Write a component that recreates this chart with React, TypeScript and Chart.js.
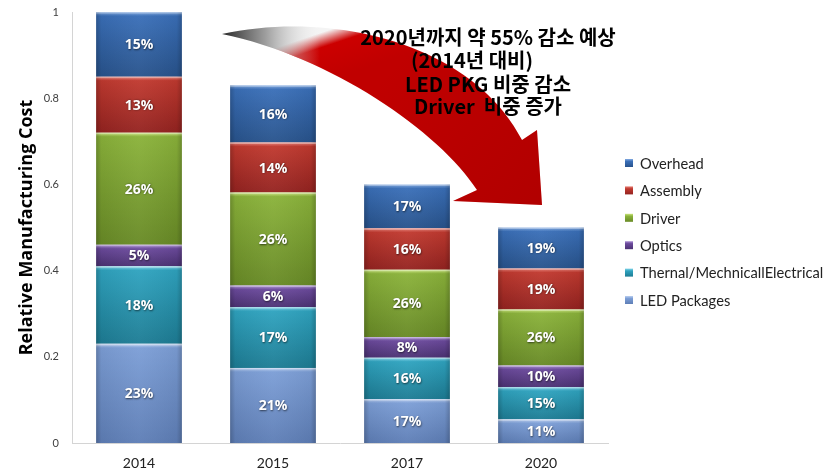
import React, { useEffect, useRef } from "react";
import { Chart, registerables } from "chart.js";
Chart.register(...registerables);

const categories = ["2014", "2015", "2017", "2020"];
const totals = [1.0, 0.83, 0.6, 0.5];
const seriesNames = ["LED Packages", "Thernal/MechnicallElectrical", "Optics", "Driver", "Assembly", "Overhead"];
const ledPackagesPct = [23, 21, 17, 11];
const thermalPct = [18, 17, 16, 15];
const opticsPct = [5, 6, 8, 10];
const driverPct = [26, 26, 26, 26];
const assemblyPct = [13, 14, 16, 19];
const overheadPct = [15, 16, 17, 19];
const yTicks = [0, 0.2, 0.4, 0.6, 0.8, 1];
const yTitle = "Relative Manufacturing Cost";
const annotationLines = ["2020년까지 약 55% 감소 예상", "(2014년 대비)", "LED PKG 비중 감소", "Driver  비중 증가"];

const pctSeries = [ledPackagesPct, thermalPct, opticsPct, driverPct, assemblyPct, overheadPct];
// [base, light, dark]
const palette = [
  ["#7C9ED6", "#BCD0F0", "#5E7EB6"],
  ["#2FA3BF", "#86D6EA", "#1D7C94"],
  ["#6B4A9C", "#AC90D4", "#4C3274"],
  ["#8AB23A", "#CBE67E", "#688A26"],
  ["#C0392F", "#E68077", "#942320"],
  ["#3A6FB8", "#85ACE2", "#28538C"],
];

const FONT = "Lato, 'Open Sans', sans-serif";
const BOLD_FONT = "'Open Sans', Lato, sans-serif";

function segmentGradient(ctx: any, di: number) {
  const chart = ctx.chart;
  const [base, light, dark] = palette[di];
  if (ctx.type !== "data" || !chart.chartArea) return base;
  const y = chart.scales.y;
  const i = ctx.dataIndex;
  let bottom = 0;
  for (let k = 0; k < di; k++) bottom += chart.data.datasets[k].data[i] as number;
  const top = bottom + (chart.data.datasets[di].data[i] as number);
  const yTop = y.getPixelForValue(top);
  const yBot = y.getPixelForValue(bottom);
  const g = chart.ctx.createLinearGradient(0, yTop, 0, yBot);
  g.addColorStop(0, light);
  g.addColorStop(Math.min(0.25, 4 / Math.max(1, yBot - yTop)), base);
  g.addColorStop(1, dark);
  return g;
}

const barDecor = {
  id: "barDecor",
  afterDatasetsDraw(chart: any) {
    const ctx = chart.ctx;
    chart.data.datasets.forEach((ds: any, di: number) => {
      const meta = chart.getDatasetMeta(di);
      meta.data.forEach((el: any, i: number) => {
        const { x, y, base, width } = el.getProps(["x", "y", "base", "width"], true);
        const left = x - width / 2;
        const g = ctx.createLinearGradient(left, 0, left + width, 0);
        g.addColorStop(0, "rgba(0,0,0,0.22)");
        g.addColorStop(0.06, "rgba(0,0,0,0.05)");
        g.addColorStop(0.5, "rgba(255,255,255,0.04)");
        g.addColorStop(0.94, "rgba(0,0,0,0.05)");
        g.addColorStop(1, "rgba(0,0,0,0.22)");
        ctx.save();
        ctx.fillStyle = g;
        ctx.fillRect(left, y, width, base - y);
        ctx.fillStyle = "rgba(255,255,255,0.35)";
        ctx.fillRect(left, y, width, 1.5);
        ctx.restore();
        // label
        const pct = pctSeries[di][i];
        ctx.save();
        ctx.font = `bold 14px ${BOLD_FONT}`;
        ctx.textAlign = "center";
        ctx.textBaseline = "middle";
        ctx.shadowColor = "rgba(0,0,0,0.6)";
        ctx.shadowBlur = 2;
        ctx.shadowOffsetX = 0.5;
        ctx.shadowOffsetY = 0.5;
        ctx.fillStyle = "#ffffff";
        ctx.fillText(pct + "%", x, (y + base) / 2 + 1);
        ctx.restore();
      });
    });
  },
};

const arrowAndText = {
  id: "arrowAndText",
  afterDraw(chart: any) {
    const ctx = chart.ctx;
    ctx.save();
    const path = new Path2D();
    path.moveTo(222, 34);
    path.bezierCurveTo(330, 10, 472, 42, 522, 140);
    path.lineTo(537, 130);
    path.lineTo(542, 205);
    path.lineTo(453, 201);
    path.lineTo(477, 190);
    path.bezierCurveTo(440, 132, 330, 56, 222, 34);
    path.closePath();
    const g = ctx.createLinearGradient(335, 28, 350, 73);
    g.addColorStop(0, "#f4f4f4");
    g.addColorStop(0.3, "#cc0000");
    g.addColorStop(1, "#c00000");
    ctx.fillStyle = g;
    ctx.fill(path);
    ctx.save();
    ctx.clip(path);
    const g2 = ctx.createLinearGradient(222, 0, 320, 0);
    g2.addColorStop(0, "rgba(40,40,40,1)");
    g2.addColorStop(0.45, "rgba(150,150,150,0.9)");
    g2.addColorStop(1, "rgba(235,235,235,0)");
    ctx.fillStyle = g2;
    ctx.fillRect(215, 0, 110, 80);
    const g3 = ctx.createLinearGradient(400, 60, 540, 200);
    g3.addColorStop(0, "rgba(120,0,0,0)");
    g3.addColorStop(1, "rgba(120,0,0,0.2)");
    ctx.fillStyle = g3;
    ctx.fillRect(380, 40, 170, 170);
    ctx.restore();

    ctx.fillStyle = "#000";
    ctx.font = `bold 20px 'Noto Sans CJK KR', sans-serif`;
    ctx.textAlign = "center";
    ctx.textBaseline = "middle";
    const xs = [488, 472, 488, 488];
    const ys = [37, 60, 84, 106];
    annotationLines.forEach((t, k) => ctx.fillText(t, xs[k], ys[k]));
    ctx.restore();

    // legend
    ctx.save();
    ctx.font = `14.7px ${FONT}`;
    ctx.textBaseline = "middle";
    ctx.textAlign = "left";
    const order = [...seriesNames.keys()].reverse();
    order.forEach((di, k) => {
      const cy = 163 + k * 27.4;
      const [base, light, dark] = palette[di];
      const sg = ctx.createLinearGradient(0, cy - 4, 0, cy + 4);
      sg.addColorStop(0, light);
      sg.addColorStop(0.3, base);
      sg.addColorStop(1, dark);
      ctx.fillStyle = sg;
      ctx.fillRect(625, cy - 4, 8, 8);
      ctx.fillStyle = "#222";
      ctx.fillText(seriesNames[di], 640, cy + 1);
    });
    ctx.restore();
  },
};

export default function App() {
  const ref = useRef<HTMLCanvasElement | null>(null);
  useEffect(() => {
    if (!ref.current) return;
    const datasets = seriesNames.map((name, di) => ({
      label: name,
      data: pctSeries[di].map((p, i) => (totals[i] * p) / 100),
      backgroundColor: (ctx: any) => segmentGradient(ctx, di),
      borderWidth: 0,
      barPercentage: 0.64,
      categoryPercentage: 1,
    }));
    const chart = new Chart(ref.current, {
      type: "bar",
      data: { labels: categories, datasets },
      options: {
        responsive: false,
        animation: false,
        layout: { padding: { left: 0, right: 224, top: 12, bottom: 0 } },
        plugins: { legend: { display: false }, tooltip: { enabled: false } },
        scales: {
          x: {
            stacked: true,
            grid: { display: false, drawTicks: false },
            border: { display: true, color: "#d4d4d4", width: 1 },
            ticks: { padding: 12, color: "#222", font: { family: FONT, size: 14 } },
            afterFit: (s: any) => {
              s.height = 31;
              s.paddingLeft = 0;
              s.paddingRight = 0;
            },
          },
          y: {
            stacked: true,
            min: 0,
            max: 1,
            afterBuildTicks: (s: any) => {
              s.ticks = yTicks.map((v) => ({ value: v }));
            },
            grid: { display: false, drawTicks: false },
            border: { display: true, color: "#d4d4d4", width: 1 },
            ticks: {
              padding: 13,
              color: "#404040",
              font: { family: FONT, size: 11 },
              callback: (v: any) => String(v),
            },
            title: {
              display: true,
              text: yTitle,
              color: "#000",
              font: { family: BOLD_FONT, size: 18, weight: "bold" },
              padding: { top: 16, bottom: 0 },
            },
            afterFit: (s: any) => {
              s.width = 72;
              s.paddingTop = 0;
              s.paddingBottom = 0;
            },
          },
        },
      },
      plugins: [barDecor, arrowAndText],
    });
    return () => chart.destroy();
  }, []);
  return (
    <div style={{ position: "fixed", left: 0, top: 0, width: 832, height: 474, background: "#fff" }}>
      <canvas ref={ref} width={832} height={474} style={{ display: "block" }} />
    </div>
  );
}
